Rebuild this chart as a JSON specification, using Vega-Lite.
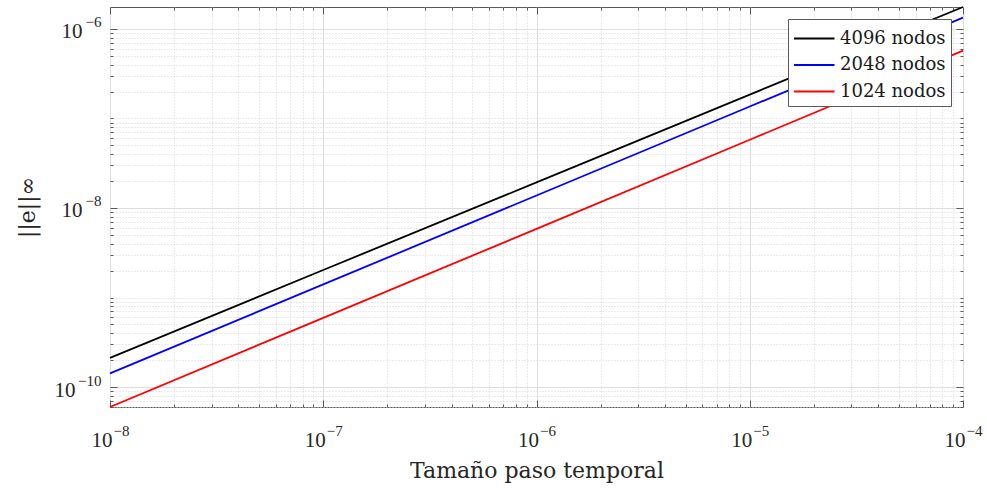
{
  "$schema": "https://vega.github.io/schema/vega-lite/v6.json",
  "width": 853,
  "height": 400,
  "autosize": {"type": "none"},
  "padding": {"left": 110, "top": 7, "right": 24, "bottom": 81},
  "background": "white",
  "config": {
    "view": {"stroke": "#5a5a5a", "strokeWidth": 1},
    "font": "Liberation Serif",
    "axis": {"domain": false}
  },
  "data": {
    "values": [
      {"dt": 1e-8, "err": 2.12e-10, "serie": "4096 nodos"},
      {"dt": 1e-7, "err": 2.03e-9, "serie": "4096 nodos"},
      {"dt": 1e-6, "err": 1.93e-8, "serie": "4096 nodos"},
      {"dt": 1e-5, "err": 1.85e-7, "serie": "4096 nodos"},
      {"dt": 1e-4, "err": 1.76e-6, "serie": "4096 nodos"},
      {"dt": 1e-8, "err": 1.42e-10, "serie": "2048 nodos"},
      {"dt": 1e-7, "err": 1.40e-9, "serie": "2048 nodos"},
      {"dt": 1e-6, "err": 1.38e-8, "serie": "2048 nodos"},
      {"dt": 1e-5, "err": 1.36e-7, "serie": "2048 nodos"},
      {"dt": 1e-4, "err": 1.34e-6, "serie": "2048 nodos"},
      {"dt": 1e-8, "err": 5.98e-11, "serie": "1024 nodos"},
      {"dt": 1e-7, "err": 5.92e-10, "serie": "1024 nodos"},
      {"dt": 1e-6, "err": 5.85e-9, "serie": "1024 nodos"},
      {"dt": 1e-5, "err": 5.79e-8, "serie": "1024 nodos"},
      {"dt": 1e-4, "err": 5.73e-7, "serie": "1024 nodos"}
    ]
  },
  "resolve": {"axis": {"x": "independent", "y": "independent"}},
  "layer": [
    {
      "mark": {"type": "line", "strokeOpacity": 0},
      "encoding": {
        "x": {"field": "dt", "type": "quantitative",
          "scale": {"type": "log", "domain": [1e-8, 1e-4], "nice": false},
          "axis": {"orient": "top", "values": [1e-8,2e-8,3e-8,4e-8,5e-8,6e-8,7e-8,8e-8,9e-8,1e-7,2e-7,3e-7,4e-7,5e-7,6e-7,7e-7,8e-7,9e-7,1e-6,2e-6,3e-6,4e-6,5e-6,6e-6,7e-6,8e-6,9e-6,1e-5,2e-5,3e-5,4e-5,5e-5,6e-5,7e-5,8e-5,9e-5,1e-4],
            "grid": true, "gridColor": "#d4d4d4", "gridDash": [1, 2], "gridWidth": 1,
            "gridOpacity": {"condition": {"test": "abs(log(datum.value)/LN10 - round(log(datum.value)/LN10)) < 0.01", "value": 0}, "value": 1},
            "ticks": true, "tickColor": "#5a5a5a",
            "tickSize": {"condition": {"test": "abs(log(datum.value)/LN10 - round(log(datum.value)/LN10)) < 0.01", "value": -7}, "value": -3},
            "labels": false, "title": null}},
        "y": {"field": "err", "type": "quantitative",
          "scale": {"type": "log", "domain": [5.98e-11, 1.76e-6], "nice": false},
          "axis": {"orient": "right", "values": [6e-11,7e-11,8e-11,9e-11,1e-10,2e-10,3e-10,4e-10,5e-10,6e-10,7e-10,8e-10,9e-10,1e-9,2e-9,3e-9,4e-9,5e-9,6e-9,7e-9,8e-9,9e-9,1e-8,2e-8,3e-8,4e-8,5e-8,6e-8,7e-8,8e-8,9e-8,1e-7,2e-7,3e-7,4e-7,5e-7,6e-7,7e-7,8e-7,9e-7,1e-6],
            "grid": true, "gridColor": "#d4d4d4", "gridDash": [1, 2], "gridWidth": 1,
            "gridOpacity": {"condition": {"test": "datum.value == 1e-10 || datum.value == 1e-8 || datum.value == 1e-6", "value": 0}, "value": 1},
            "ticks": true, "tickColor": "#5a5a5a",
            "tickSize": {"condition": {"test": "datum.value == 1e-10 || datum.value == 1e-8 || datum.value == 1e-6", "value": -7}, "value": -3},
            "labels": false, "title": null}}
      }
    },
    {
      "mark": {"type": "line", "strokeOpacity": 0},
      "encoding": {
        "x": {"field": "dt", "type": "quantitative",
          "scale": {"type": "log", "domain": [1e-8, 1e-4], "nice": false},
          "axis": {"orient": "bottom", "values": [1e-8,2e-8,3e-8,4e-8,5e-8,6e-8,7e-8,8e-8,9e-8,1e-7,2e-7,3e-7,4e-7,5e-7,6e-7,7e-7,8e-7,9e-7,1e-6,2e-6,3e-6,4e-6,5e-6,6e-6,7e-6,8e-6,9e-6,1e-5,2e-5,3e-5,4e-5,5e-5,6e-5,7e-5,8e-5,9e-5,1e-4],
            "grid": false, "ticks": true, "tickColor": "#5a5a5a",
            "tickSize": {"condition": {"test": "abs(log(datum.value)/LN10 - round(log(datum.value)/LN10)) < 0.01", "value": -7}, "value": -3},
            "labels": false, "title": null}},
        "y": {"field": "err", "type": "quantitative",
          "scale": {"type": "log", "domain": [5.98e-11, 1.76e-6], "nice": false},
          "axis": {"orient": "left", "values": [6e-11,7e-11,8e-11,9e-11,1e-10,2e-10,3e-10,4e-10,5e-10,6e-10,7e-10,8e-10,9e-10,1e-9,2e-9,3e-9,4e-9,5e-9,6e-9,7e-9,8e-9,9e-9,1e-8,2e-8,3e-8,4e-8,5e-8,6e-8,7e-8,8e-8,9e-8,1e-7,2e-7,3e-7,4e-7,5e-7,6e-7,7e-7,8e-7,9e-7,1e-6],
            "grid": false, "ticks": true, "tickColor": "#5a5a5a",
            "tickSize": {"condition": {"test": "datum.value == 1e-10 || datum.value == 1e-8 || datum.value == 1e-6", "value": -7}, "value": -3},
            "labels": false, "title": null}}
      }
    },
    {
      "mark": {"type": "line", "strokeOpacity": 0},
      "encoding": {
        "x": {"field": "dt", "type": "quantitative",
          "scale": {"type": "log", "domain": [1e-8, 1e-4], "nice": false},
          "axis": {"orient": "bottom", "values": [1e-8, 1e-7, 1e-6, 1e-5, 1e-4],
            "grid": false, "ticks": false,
            "labelExpr": "datum.value < 5e-8 ? '−8' : datum.value < 5e-7 ? '−7' : datum.value < 5e-6 ? '−6' : datum.value < 5e-5 ? '−5' : '−4'",
            "labelFont": "Liberation Serif", "labelFontSize": 15, "labelColor": "#262626",
            "labelAlign": "left", "labelBaseline": "alphabetic", "labelPadding": 28, "labelOffset": 3,
            "labelFlush": false, "labelOverlap": false, "title": null}},
        "y": {"field": "err", "type": "quantitative",
          "scale": {"type": "log", "domain": [5.98e-11, 1.76e-6], "nice": false},
          "axis": {"orient": "left", "values": [1e-10, 1e-8, 1e-6],
            "grid": false, "ticks": false,
            "labelExpr": "datum.value < 1e-9 ? '−10' : datum.value < 1e-7 ? '−8' : '−6'",
            "labelFont": "Liberation Serif", "labelFontSize": 15, "labelColor": "#262626",
            "labelAlign": "right", "labelBaseline": "alphabetic", "labelPadding": 9, "labelOffset": -2,
            "labelFlush": false, "labelOverlap": false, "title": null}}
      }
    },
    {
      "mark": {"type": "line", "strokeWidth": 1.8},
      "encoding": {
        "x": {"field": "dt", "type": "quantitative",
          "scale": {"type": "log", "domain": [1e-8, 1e-4], "nice": false},
          "axis": {"orient": "bottom", "values": [1e-8, 1e-7, 1e-6, 1e-5, 1e-4],
            "grid": true, "gridColor": "#dedede", "gridWidth": 1,
            "ticks": false,
            "labelExpr": "'10'",
            "labelFont": "Liberation Serif", "labelFontSize": 21, "labelColor": "#262626",
            "labelAlign": "right", "labelBaseline": "alphabetic", "labelPadding": 39, "labelOffset": 2,
            "labelFlush": false, "labelOverlap": false,
            "title": "Tamaño paso temporal", "titleFont": "DejaVu Serif", "titleFontSize": 22,
            "titleFontWeight": "normal", "titleColor": "#262626",
            "titleBaseline": "alphabetic", "titleY": 70}},
        "y": {"field": "err", "type": "quantitative",
          "scale": {"type": "log", "domain": [5.98e-11, 1.76e-6], "nice": false},
          "axis": {"orient": "left", "values": [1e-10, 1e-8, 1e-6],
            "grid": true, "gridColor": "#dedede", "gridWidth": 1,
            "ticks": false,
            "labelExpr": "'10'",
            "labelFont": "Liberation Serif", "labelFontSize": 21, "labelColor": "#262626",
            "labelAlign": "right", "labelBaseline": "alphabetic", "labelOffset": 9,
            "labelPadding": {"condition": {"test": "datum.value < 1e-9", "value": 35}, "value": 28},
            "labelFlush": false, "labelOverlap": false,
            "title": "||e||∞", "titleFont": "DejaVu Serif", "titleFontSize": 22,
            "titleFontWeight": "normal", "titleColor": "#262626",
            "titleBaseline": "middle", "titleX": -83}},
        "color": {"field": "serie", "type": "nominal",
          "scale": {"domain": ["4096 nodos", "2048 nodos", "1024 nodos"], "range": ["#000000", "#0000ff", "#ff0000"]},
          "legend": {"title": null, "orient": "none", "legendX": 678, "legendY": 12,
            "symbolType": "M-1,0H2", "symbolSize": 729, "symbolStrokeWidth": 2,
            "labelFont": "DejaVu Serif", "labelFontSize": 18, "labelColor": "#1a1a1a",
            "rowPadding": 2.5, "fillColor": "white", "strokeColor": "#5a5a5a", "padding": 5, "labelOffset": 18}}
      }
    }
  ]
}
